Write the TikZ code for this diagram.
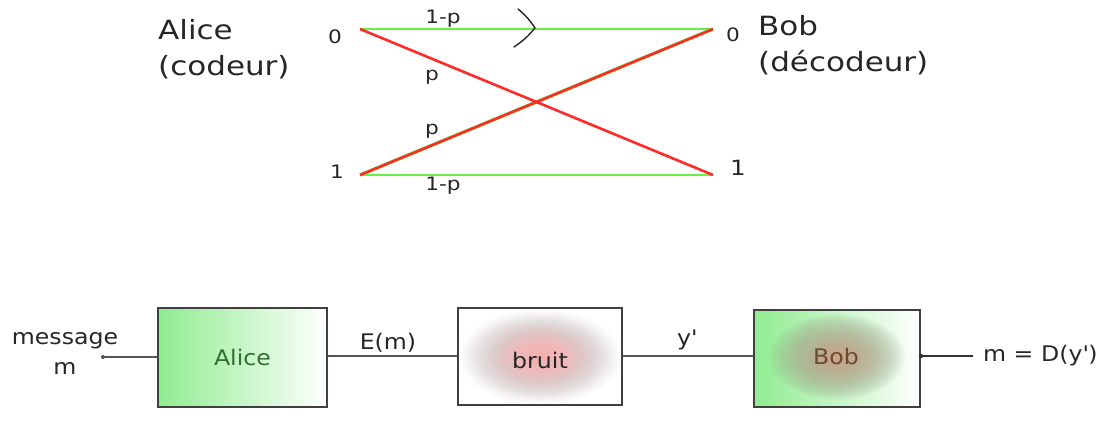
\documentclass[tikz,border=0pt]{standalone}
\usepackage{fontspec}
\setmainfont{DejaVu Sans}
\newfontfamily\widefont{DejaVu Sans}[FakeStretch=1.17]
\newfontfamily\midfont{DejaVu Sans}[FakeStretch=1.1]
\definecolor{lgreen}{HTML}{66F244}
\definecolor{lred}{HTML}{FF2A2A}
\definecolor{wire}{HTML}{555555}
\definecolor{boxgreen}{HTML}{8FEC8F}
\definecolor{alicetxt}{HTML}{2F6F2F}
\definecolor{bobtxt}{HTML}{6A4A30}
\definecolor{nz0}{HTML}{F4B0B0}
\definecolor{nz1}{HTML}{F0B8B8}
\definecolor{nz2}{HTML}{DEC6C6}
\definecolor{nz3}{HTML}{E2DCDC}
\definecolor{nz4}{HTML}{F4F2F2}
\definecolor{bb0}{HTML}{E89A86}
\definecolor{bb2}{HTML}{9AAE90}
\pgfdeclareradialshading{noiseshade}{\pgfpointorigin}{color(0bp)=(nz0); color(7bp)=(nz1); color(13bp)=(nz2); color(18bp)=(nz3); color(22bp)=(nz4); color(25bp)=(white); color(50bp)=(white)}
\tikzset{
  big/.style={font=\widefont\fontsize{26.5}{32}\selectfont, text=black!85, inner sep=0pt},
  small/.style={font=\widefont\fontsize{18.5}{23}\selectfont, text=black!85, inner sep=0pt},
  lab/.style={font=\midfont\fontsize{21.5}{26}\selectfont, text=black!85, inner sep=0pt},
  ok/.style={draw=lgreen, line width=2pt},
  bad/.style={draw=lred, line width=2.6pt},
  wireline/.style={draw=wire, line width=1.8pt},
  block/.style={draw=black!75, line width=2pt, rectangle, inner sep=0pt, font=\midfont\fontsize{21.5}{26}\selectfont},
}
\begin{document}
\begin{tikzpicture}[x=1pt,y=-1pt]
\useasboundingbox (0,0) rectangle (1106,428);
% --- channel ---
\coordinate (a0) at (360,29);
\coordinate (a1) at (360,175);
\coordinate (b0) at (713,29);
\coordinate (b1) at (713,175);
\draw[ok] (a0) -- (b0);
\draw[ok] (a1) -- (b1);
\draw[ok, line width=3.4pt] (a1) -- (b0);
\draw[bad] (a0) -- (b1);
\draw[bad] (a1) -- (b0);
\coordinate (c1) at (518,9);
\coordinate (c2) at (535,28);
\coordinate (c3) at (514,47);
\draw[black!85, line width=1.4pt, line cap=round, line join=round] (c1) to[bend left=8] (c2) to[bend left=8] (c3);
\node[big, anchor=base west] (alice) at (158,40) {Alice};
\node[big, anchor=base west] (codeur) at (158,76) {(codeur)};
\node[big, anchor=base west] (bob) at (758,36) {Bob};
\node[big, anchor=base west] (decodeur) at (758,72) {(décodeur)};
\node[small] (l0) at (335,37) {0};
\node[small] (l1) at (337,172) {1};
\node[small] (r0) at (733,35) {0};
\node[small, font=\widefont\fontsize{21}{25}\selectfont] (r1) at (738,168) {1};
\node[small] (p1) at (443,19) {1-p};
\node[small] (p2) at (432,77) {p};
\node[small] (p3) at (432,131) {p};
\node[small] (p4) at (443,186) {1-p};
% --- block chain ---
\node[block, minimum width=169pt, minimum height=99pt, left color=boxgreen, right color=white, text=alicetxt] (A) at (242.5,357.5) {Alice};
\node[block, minimum width=164pt, minimum height=97pt, shading=noiseshade] (N) at (540,356.5) {};
\node[lab] (Nt) at (540,360) {bruit};
\node[block, minimum width=166pt, minimum height=97pt, left color=boxgreen, right color=white] (B) at (837,358.5) {};
\coordinate (bc) at (837,357);
\foreach \i in {0,...,29}{
  \pgfmathsetmacro{\rx}{68*(1-\i/31)}
  \pgfmathsetmacro{\ry}{43*(1-\i/31)}
  \pgfmathtruncatemacro{\p}{100-3.4*\i}
  \fill[bb2!\p!bb0, fill opacity=0.075] (bc) ellipse [x radius=\rx, y radius=\ry];
}
\node[lab, text=bobtxt] (Bt) at (836,356) {Bob};
\coordinate (min) at (103,357);
\coordinate (mout) at (973,356);
\draw[wireline] (min) -- (A.west |- min);
\fill[wire] (min) circle (2pt);
\draw[wireline] (A.east |- 0,356) -- (N.west |- 0,356);
\draw[wireline] (N.east |- 0,356) -- (B.west |- 0,356);
\draw[black!80, line width=1.4pt] (B.east |- mout) -- (mout);
\fill[black!80] (B.east |- mout) circle (2.2pt);
\node[lab] (msg) at (65,341) {message};
\node[lab] (msgm) at (65,368) {m};
\node[lab] (em) at (388,343) {E(m)};
\node[lab] (yp) at (687,340) {y\textquotesingle};
\node[lab, anchor=west] (out) at (983,356) {m = D(y\textquotesingle)};
\end{tikzpicture}
\end{document}
